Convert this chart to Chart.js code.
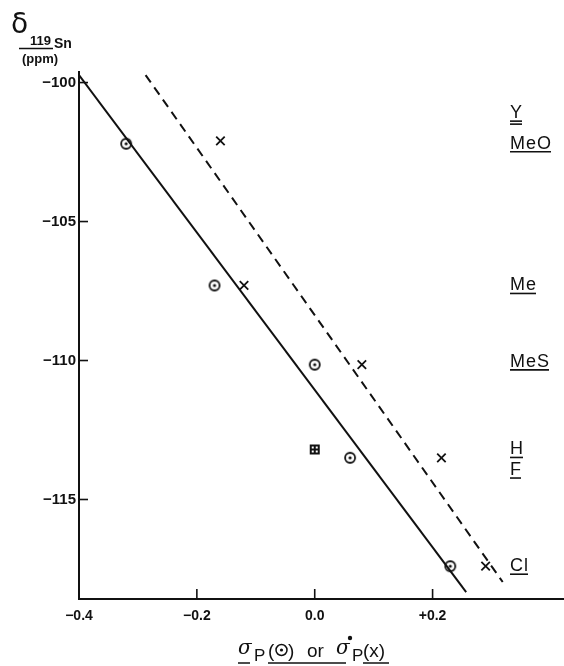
<!DOCTYPE html>
<html>
<head>
<meta charset="utf-8">
<script src="https://cdn.jsdelivr.net/npm/chart.js@4.4.0/dist/chart.umd.min.js"></script>
<style>
  html, body { margin: 0; padding: 0; background: #fff; }
  #wrap { width: 564px; height: 666px; position: relative; }
</style>
</head>
<body>
<div id="wrap"><canvas id="c" width="564" height="666"></canvas></div>
<script>
/* 119Sn shift vs sigma_p / sigma_p° */

const xTickVals = [-0.4, -0.2, 0, 0.2];
const xTickText = ['\u22120.4', '\u22120.2', '0.0', '+0.2'];
const yTickVals = [-100, -105, -110, -115];
const yTickText = ['\u2212100', '\u2212105', '\u2212110', '\u2212115'];

// sigma_p (circles) : MeO, Me, MeS, F, Cl
const circleX = [-0.32, -0.17, 0.00, 0.06, 0.23];
const circleY = [-102.2, -107.3, -110.15, -113.5, -117.4];
// sigma_p° (crosses) : MeO, Me, MeS, F, Cl
const crossX = [-0.16, -0.12, 0.08, 0.215, 0.29];
const crossY = [-102.1, -107.3, -110.15, -113.5, -117.4];
// H : both sigma = 0
const hX = [0.0];
const hY = [-113.2];

const solidX = [-0.4, 0.257];
const solidY = [-99.73, -118.33];
const dashX = [-0.287, 0.319];
const dashY = [-99.73, -117.97];

// substituent labels on the right
const subLabels = ['Y', 'MeO', 'Me', 'MeS', 'H', 'F', 'Cl'];
const subLabelY = [-101.1, -102.2, -107.3, -110.05, -113.2, -113.94, -117.4];

const pts = (xs, ys) => xs.map((x, i) => ({ x, y: ys[i] }));

function dotCircle() {
  const c = document.createElement('canvas');
  c.width = 14; c.height = 14;
  const g = c.getContext('2d');
  g.strokeStyle = '#111'; g.lineWidth = 1.8;
  g.beginPath(); g.arc(7, 7, 5, 0, Math.PI * 2); g.stroke();
  g.fillStyle = '#111';
  g.beginPath(); g.arc(7, 7, 1.6, 0, Math.PI * 2); g.fill();
  return c;
}

function hSquare() {
  const c = document.createElement('canvas');
  c.width = 12; c.height = 12;
  const g = c.getContext('2d');
  g.fillStyle = '#111';
  g.fillRect(1, 1, 10, 10);
  g.fillStyle = '#fff';
  g.fillRect(3, 3, 2, 2); g.fillRect(7, 3, 2, 2);
  g.fillRect(3, 7, 2, 2); g.fillRect(7, 7, 2, 2);
  return c;
}

const decor = {
  id: 'decor',
  afterDraw(chart) {
    const ctx = chart.ctx;
    const xs = chart.scales.x, ys = chart.scales.y;
    const ca = chart.chartArea;
    ctx.save();
    ctx.strokeStyle = '#111'; ctx.fillStyle = '#111';

    // inward ticks
    ctx.lineWidth = 1.6;
    xTickVals.forEach(v => {
      const px = xs.getPixelForValue(v);
      ctx.beginPath(); ctx.moveTo(px, ca.bottom); ctx.lineTo(px, ca.bottom - 10); ctx.stroke();
    });
    yTickVals.forEach(v => {
      const py = ys.getPixelForValue(v);
      ctx.beginPath(); ctx.moveTo(ca.left, py); ctx.lineTo(ca.left + 9, py); ctx.stroke();
    });

    // y-axis header
    ctx.textBaseline = 'alphabetic';
    ctx.textAlign = 'left';
    ctx.font = '28px "DejaVu Sans"';
    ctx.fillText('\u03b4', 11, 33);
    ctx.font = 'bold 13px "Liberation Sans"';
    ctx.fillText('119', 30, 45);
    ctx.font = 'bold 14px "Liberation Sans"';
    ctx.fillText('Sn', 54, 48);
    ctx.lineWidth = 1.5;
    ctx.beginPath(); ctx.moveTo(19, 48.5); ctx.lineTo(53, 48.5); ctx.stroke();
    ctx.font = 'bold 13px "Liberation Sans"';
    ctx.fillText('(ppm)', 22, 63);

    // x-axis title
    const by = 657;
    ctx.font = 'italic 20px "DejaVu Serif"';
    ctx.fillText('\u03c3', 238, by - 3);
    ctx.font = '17px "Liberation Sans"';
    ctx.fillText('P', 254, by + 4);
    ctx.font = '19px "Liberation Sans"';
    ctx.fillText('(', 268, by);
    ctx.lineWidth = 1.5;
    ctx.beginPath(); ctx.arc(281.5, by - 7, 5.5, 0, Math.PI * 2); ctx.stroke();
    ctx.beginPath(); ctx.arc(281.5, by - 7, 1.6, 0, Math.PI * 2); ctx.fill();
    ctx.fillText(')', 288, by);
    ctx.fillText('or', 307, by);
    ctx.font = 'italic 20px "DejaVu Serif"';
    ctx.fillText('\u03c3', 336, by - 3);
    ctx.beginPath(); ctx.arc(350, by - 19, 2.2, 0, Math.PI * 2); ctx.fill();
    ctx.font = '17px "Liberation Sans"';
    ctx.fillText('P', 352, by + 4);
    ctx.font = '19px "Liberation Sans"';
    ctx.fillText('(x)', 363, by);
    ctx.lineWidth = 1.5;
    [[238, 250], [268, 346], [363, 389]].forEach(([a, b]) => {
      ctx.beginPath(); ctx.moveTo(a, 663); ctx.lineTo(b, 663); ctx.stroke();
    });

    // substituent labels
    ctx.font = '18px "Liberation Sans"';
    ctx.letterSpacing = '1px';
    ctx.textBaseline = 'middle';
    subLabels.forEach((t, i) => {
      const py = ys.getPixelForValue(subLabelY[i]);
      ctx.fillText(t, 510, py);
      const w = ctx.measureText(t).width - 1;
      ctx.lineWidth = 1.6;
      ctx.beginPath(); ctx.moveTo(510, py + 8); ctx.lineTo(510 + w, py + 8); ctx.stroke();
      if (t === 'Y') {
        ctx.beginPath(); ctx.moveTo(510, py + 11); ctx.lineTo(510 + w, py + 11); ctx.stroke();
      }
    });
    ctx.restore();
  }
};

new Chart(document.getElementById('c'), {
  type: 'scatter',
  data: {
    datasets: [
      { data: pts(solidX, solidY), showLine: true, borderColor: '#111', borderWidth: 2, pointRadius: 0 },
      { data: pts(dashX, dashY), showLine: true, borderColor: '#111', borderWidth: 2, borderDash: [9, 6], pointRadius: 0 },
      { data: pts(circleX, circleY), pointStyle: dotCircle(), pointRadius: 6 },
      { data: pts(crossX, crossY), pointStyle: 'crossRot', pointRadius: 6, borderColor: '#111', borderWidth: 1.8 },
      { data: pts(hX, hY), pointStyle: hSquare(), pointRadius: 6 },
    ],
  },
  options: {
    responsive: false, animation: false,
    layout: { padding: { top: 72, right: 0, left: 0, bottom: 0 }, autoPadding: false },
    plugins: { legend: { display: false }, tooltip: { enabled: false } },
    scales: {
      x: {
        type: 'linear', min: -0.4, max: 0.423,
        afterBuildTicks: s => { s.ticks = xTickVals.map(v => ({ value: v })); },
        afterFit: s => { s.height = 67; },
        grid: { display: true, drawOnChartArea: false, drawTicks: false },
        border: { color: '#111', width: 2 },
        ticks: { padding: 9, color: '#111', font: { family: 'Liberation Sans', weight: 'bold', size: 14 },
                 callback: v => xTickText[xTickVals.indexOf(v)] },
      },
      y: {
        type: 'linear', min: -118.58, max: -99.62,
        afterBuildTicks: s => { s.ticks = yTickVals.map(v => ({ value: v })); },
        afterFit: s => { s.width = 79; },
        grid: { display: true, drawOnChartArea: false, drawTicks: false },
        border: { color: '#111', width: 2 },
        ticks: { padding: 3, color: '#111', font: { family: 'Liberation Sans', weight: 'bold', size: 15 },
                 callback: v => yTickText[yTickVals.indexOf(v)] },
      },
    },
  },
  plugins: [decor],
});
</script>
</body>
</html>
